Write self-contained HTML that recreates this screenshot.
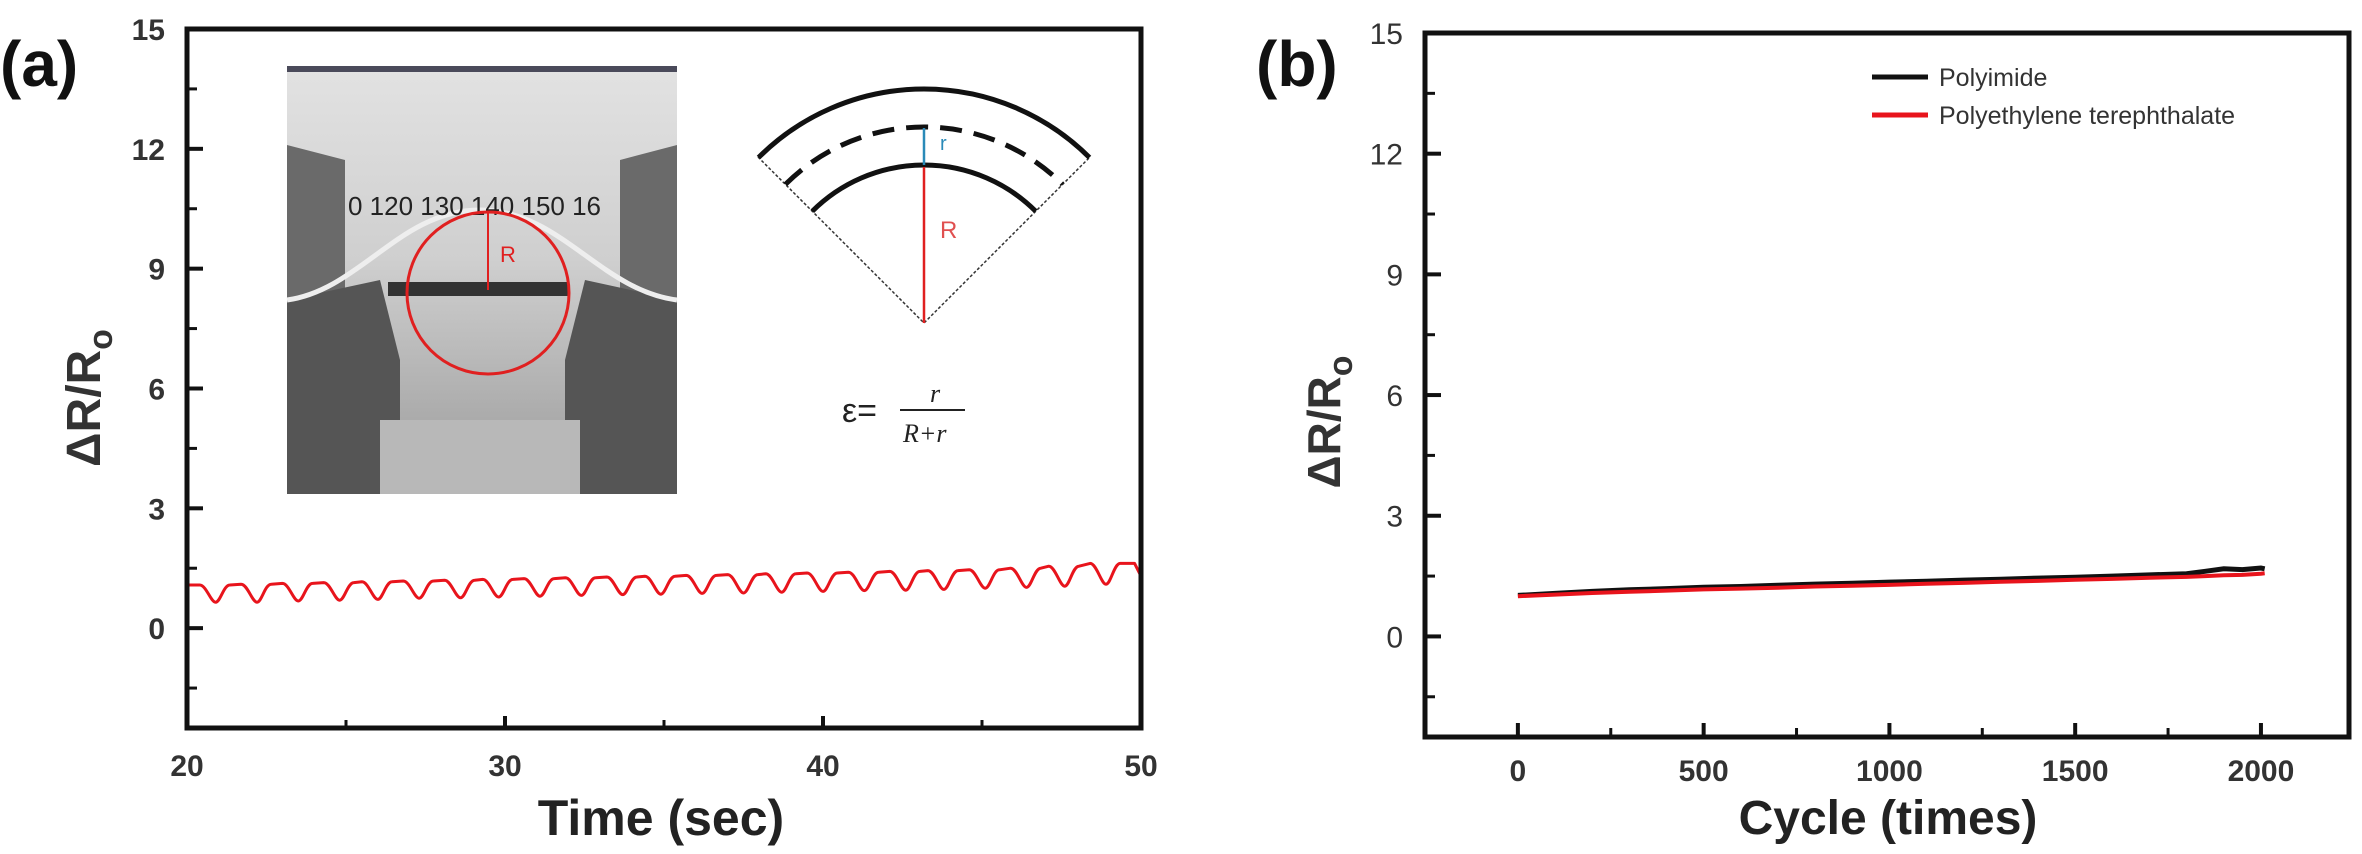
<!DOCTYPE html>
<html><head><meta charset="utf-8">
<style>
html,body{margin:0;padding:0;background:#fff;}
svg{display:block;font-family:"Liberation Sans",Arial,sans-serif;}
</style></head>
<body>
<svg id="fig" width="2362" height="854" viewBox="0 0 2362 854" xmlns="http://www.w3.org/2000/svg">
<defs>
<linearGradient id="bgG" x1="0" y1="0" x2="0" y2="1">
<stop offset="0" stop-color="#e2e2e2"/><stop offset="0.45" stop-color="#cfcfcf"/><stop offset="1" stop-color="#9a9a9a"/>
</linearGradient>
</defs>
<g id="panelA"></g>
<g id="panelB"></g>
</svg>
<script>
// ---- Panel (a) data ----
const aTroughTimes = [20.9,22.2,23.5,24.8,26.0,27.3,28.6,29.8,31.1,32.4,33.7,34.9,36.2,37.5,38.7,40.0,41.3,42.6,43.8,45.1,46.4,47.6,48.9];
const aTroughVals  = [0.65,0.65,0.68,0.70,0.72,0.75,0.76,0.78,0.80,0.82,0.84,0.85,0.87,0.88,0.90,0.92,0.94,0.95,0.97,1.00,1.02,1.05,1.10];
const aPeakVals    = [1.08,1.10,1.12,1.14,1.16,1.18,1.20,1.22,1.24,1.26,1.28,1.30,1.32,1.34,1.36,1.38,1.40,1.42,1.44,1.46,1.50,1.55,1.62];
const aYTicks = [0,3,6,9,12,15];
const aXTicks = [20,30,40,50];
// ---- Panel (b) data ----
const bCycles = [0,100,200,300,400,500,600,700,800,900,1000,1100,1200,1300,1400,1500,1600,1700,1800,1850,1900,1950,2000,2010];
const bPolyimide = [1.02,1.07,1.12,1.16,1.19,1.22,1.24,1.27,1.30,1.32,1.35,1.37,1.40,1.42,1.45,1.47,1.50,1.53,1.56,1.62,1.68,1.66,1.70,1.68];
const bPET = [1.00,1.04,1.08,1.11,1.14,1.17,1.19,1.21,1.24,1.26,1.28,1.31,1.33,1.36,1.38,1.41,1.43,1.46,1.48,1.50,1.52,1.53,1.56,1.57];
const bYTicks = [0,3,6,9,12,15];
const bXTicks = [0,500,1000,1500,2000];
const legendLabels = ["Polyimide","Polyethylene terephthalate"];

const NS="http://www.w3.org/2000/svg";
function mk(tag, attrs, parent){const e=document.createElementNS(NS,tag);for(const k in attrs)e.setAttribute(k,attrs[k]);parent.appendChild(e);return e;}

const ax={x0:187,x1:1141,y0:728,y1:29,xmin:20,xmax:50,ymin:-2.5,ymax:15};
const xa=v=>ax.x0+(v-ax.xmin)/(ax.xmax-ax.xmin)*(ax.x1-ax.x0);
const ya=v=>ax.y0-(v-ax.ymin)/(ax.ymax-ax.ymin)*(ax.y0-ax.y1);
const bx={x0:1425,x1:2349,y0:737,y1:33,xmin:-250,xmax:2237,ymin:-2.5,ymax:15};
const xb=v=>bx.x0+(v-bx.xmin)/(bx.xmax-bx.xmin)*(bx.x1-bx.x0);
const yb=v=>bx.y0-(v-bx.ymin)/(bx.ymax-bx.ymin)*(bx.y0-bx.y1);

const A=document.getElementById('panelA');
const B=document.getElementById('panelB');

// ---- Panel A ----
let t=mk('text',{x:0,y:86,'font-size':64,'font-weight':'bold',fill:'#111'},A);t.textContent='(a)';



const ph=mk('g',{},A);


mk('rect',{x:287,y:68,width:390,height:426,fill:'url(#bgG)'},ph);
mk('rect',{x:287,y:66,width:390,height:6,fill:'#4a4a5a'},ph);
mk('path',{d:'M287 145 L345 160 L345 290 L287 300 Z',fill:'#6a6a6a'},ph);
mk('path',{d:'M677 145 L620 160 L620 290 L677 300 Z',fill:'#6a6a6a'},ph);
mk('path',{d:'M287 300 L380 280 L400 360 L400 494 L287 494 Z',fill:'#555'},ph);
mk('path',{d:'M677 300 L585 280 L565 360 L565 494 L677 494 Z',fill:'#555'},ph);
mk('rect',{x:380,y:420,width:200,height:74,fill:'#b8b8b8'},ph);
mk('path',{d:'M287 300 C360 290 400 210 480 210 C560 210 600 290 677 300',fill:'none',stroke:'#eee','stroke-width':5},ph);
mk('rect',{x:388,y:282,width:180,height:14,fill:'#333'},ph);
t=mk('text',{x:348,y:215,'font-size':26,fill:'#222'},ph);t.textContent='0 120 130 140 150 16';
mk('circle',{cx:488,cy:293,r:81,fill:'none',stroke:'#e02020','stroke-width':3},ph);
mk('line',{x1:488,y1:290,x2:488,y2:212,stroke:'#e02020','stroke-width':2},ph);
t=mk('text',{x:500,y:262,'font-size':22,fill:'#e02020'},ph);t.textContent='R';

const dg=mk('g',{},A);


const cx=924,cy=323;
function arc(r){const d=r*Math.SQRT1_2;return `M${cx-d} ${cy-d} A${r} ${r} 0 0 1 ${cx+d} ${cy-d}`;}
mk('path',{d:`M${cx-166} ${cy-166} L${cx} ${cy} L${cx+166} ${cy-166}`,fill:'none',stroke:'#333','stroke-width':1.5,'stroke-dasharray':'3 2'},dg);
mk('path',{d:arc(234),fill:'none',stroke:'#111','stroke-width':5},dg);
mk('path',{d:arc(196),fill:'none',stroke:'#111','stroke-width':5,'stroke-dasharray':'22 12'},dg);
mk('path',{d:arc(158),fill:'none',stroke:'#111','stroke-width':5},dg);
mk('line',{x1:cx,y1:cy,x2:cx,y2:167,stroke:'#e02020','stroke-width':2.5},dg);
mk('line',{x1:cx,y1:165,x2:cx,y2:128,stroke:'#2a8ab8','stroke-width':2.5},dg);
t=mk('text',{x:940,y:150,'font-size':20,fill:'#2a8ab8'},dg);t.textContent='r';
t=mk('text',{x:940,y:238,'font-size':24,fill:'#e05050'},dg);t.textContent='R';
t=mk('text',{x:842,y:422,'font-size':34,fill:'#222'},dg);t.textContent='ε=';
t=mk('text',{x:930,y:402,'font-size':26,'font-style':'italic','font-family':'Liberation Serif',fill:'#222'},dg);t.textContent='r';
mk('line',{x1:900,y1:410,x2:965,y2:410,stroke:'#222','stroke-width':2},dg);
t=mk('text',{x:903,y:442,'font-size':26,'font-style':'italic','font-family':'Liberation Serif',fill:'#222'},dg);t.textContent='R+r';

// red series a (rounded dips via curves)
let d='M'+xa(20).toFixed(1)+' '+ya(aPeakVals[0]).toFixed(1);
for(let i=0;i<aTroughTimes.length;i++){
  const tt=aTroughTimes[i], pk=aPeakVals[i], tr=aTroughVals[i];
  d+=' L'+xa(tt-0.5).toFixed(1)+' '+ya(pk).toFixed(1);
  d+=' C'+xa(tt-0.3).toFixed(1)+' '+ya(pk).toFixed(1)+' '+xa(tt-0.15).toFixed(1)+' '+ya(tr).toFixed(1)+' '+xa(tt).toFixed(1)+' '+ya(tr).toFixed(1);
  d+=' C'+xa(tt+0.15).toFixed(1)+' '+ya(tr).toFixed(1)+' '+xa(tt+0.25).toFixed(1)+' '+ya(pk).toFixed(1)+' '+xa(tt+0.45).toFixed(1)+' '+ya(pk).toFixed(1);
}
d+=' L'+xa(49.8).toFixed(1)+' '+ya(aPeakVals[aPeakVals.length-1]).toFixed(1);
d+=' L'+xa(50).toFixed(1)+' '+ya(1.3).toFixed(1);
const la=mk('path',{d:d,fill:'none',stroke:'#e8141c','stroke-width':3,'stroke-linejoin':'round'},A);



const fa=mk('rect',{x:ax.x0,y:ax.y1,width:ax.x1-ax.x0,height:ax.y0-ax.y1,fill:'none',stroke:'#111','stroke-width':5},A);


aYTicks.forEach(v=>{
  mk('line',{x1:ax.x0,y1:ya(v),x2:ax.x0+16,y2:ya(v),stroke:'#111','stroke-width':4},A);
  const l=mk('text',{x:ax.x0-22,y:ya(v)+11,'font-size':30,'font-weight':'bold','text-anchor':'end',fill:'#333'},A);
  l.textContent=v;
  
  
});
aYTicks.slice(0,-1).forEach(v=>mk('line',{x1:ax.x0,y1:ya(v+1.5),x2:ax.x0+10,y2:ya(v+1.5),stroke:'#111','stroke-width':3},A));
mk('line',{x1:ax.x0,y1:ya(-1.5),x2:ax.x0+10,y2:ya(-1.5),stroke:'#111','stroke-width':3},A);
aXTicks.forEach(v=>{
  mk('line',{x1:xa(v),y1:ax.y0,x2:xa(v),y2:ax.y0-12,stroke:'#111','stroke-width':4},A);
  const l=mk('text',{x:xa(v),y:ax.y0+48,'font-size':30,'font-weight':'bold','text-anchor':'middle',fill:'#333'},A);
  l.textContent=v;
  
  
});
aXTicks.slice(0,-1).forEach(v=>mk('line',{x1:xa(v+5),y1:ax.y0,x2:xa(v+5),y2:ax.y0-8,stroke:'#111','stroke-width':3},A));
t=mk('text',{x:661,y:835,'font-size':50,'font-weight':'bold','text-anchor':'middle',fill:'#222'},A);t.textContent='Time (sec)';


t=mk('text',{x:0,y:0,'font-size':48,'font-weight':'bold','text-anchor':'middle',fill:'#333',transform:'translate(100,398) rotate(-90)'},A);
t.innerHTML='ΔR/R<tspan font-size="34" dy="12">o</tspan>';



// ---- Panel B ----
t=mk('text',{x:1256,y:86,'font-size':64,'font-weight':'bold',fill:'#111'},B);t.textContent='(b)';


const lb1=mk('path',{d:'M'+bCycles.map((c,i)=>xb(c).toFixed(1)+' '+yb(bPolyimide[i]).toFixed(1)).join(' L'),fill:'none',stroke:'#111','stroke-width':5},B);


const lb2=mk('path',{d:'M'+bCycles.map((c,i)=>xb(c).toFixed(1)+' '+yb(bPET[i]).toFixed(1)).join(' L'),fill:'none',stroke:'#e8141c','stroke-width':4},B);


const fb=mk('rect',{x:bx.x0,y:bx.y1,width:bx.x1-bx.x0,height:bx.y0-bx.y1,fill:'none',stroke:'#111','stroke-width':5},B);


bYTicks.forEach(v=>{
  mk('line',{x1:bx.x0,y1:yb(v),x2:bx.x0+16,y2:yb(v),stroke:'#111','stroke-width':4},B);
  const l=mk('text',{x:bx.x0-22,y:yb(v)+11,'font-size':30,'text-anchor':'end',fill:'#333'},B);
  l.textContent=v;
  
  
});
bYTicks.slice(0,-1).forEach(v=>mk('line',{x1:bx.x0,y1:yb(v+1.5),x2:bx.x0+10,y2:yb(v+1.5),stroke:'#111','stroke-width':3},B));
mk('line',{x1:bx.x0,y1:yb(-1.5),x2:bx.x0+10,y2:yb(-1.5),stroke:'#111','stroke-width':3},B);
bXTicks.forEach(v=>{
  mk('line',{x1:xb(v),y1:bx.y0,x2:xb(v),y2:bx.y0-14,stroke:'#111','stroke-width':4},B);
  const l=mk('text',{x:xb(v),y:bx.y0+44,'font-size':30,'font-weight':'bold','text-anchor':'middle',fill:'#333'},B);
  l.textContent=v;
  
  
});
bXTicks.slice(0,-1).forEach(v=>mk('line',{x1:xb(v+250),y1:bx.y0,x2:xb(v+250),y2:bx.y0-9,stroke:'#111','stroke-width':3},B));
t=mk('text',{x:1888,y:834,'font-size':48,'font-weight':'bold','text-anchor':'middle',fill:'#222'},B);t.textContent='Cycle (times)';


t=mk('text',{x:0,y:0,'font-size':46,'font-weight':'bold','text-anchor':'middle',fill:'#333',transform:'translate(1340,422) rotate(-90)'},B);
t.innerHTML='ΔR/R<tspan font-size="34" dy="12">o</tspan>';


const lg=mk('g',{},B);


const lcol=['#111','#e8141c'];
legendLabels.forEach((s,i)=>{
  const yy=77+i*38;
  mk('line',{x1:1872,y1:yy,x2:1928,y2:yy,stroke:lcol[i],'stroke-width':5},lg);
  const l=mk('text',{x:1939,y:yy+9,'font-size':25,fill:'#333'},lg);
  l.textContent=s;
  
  
});
</script>
</body></html>
